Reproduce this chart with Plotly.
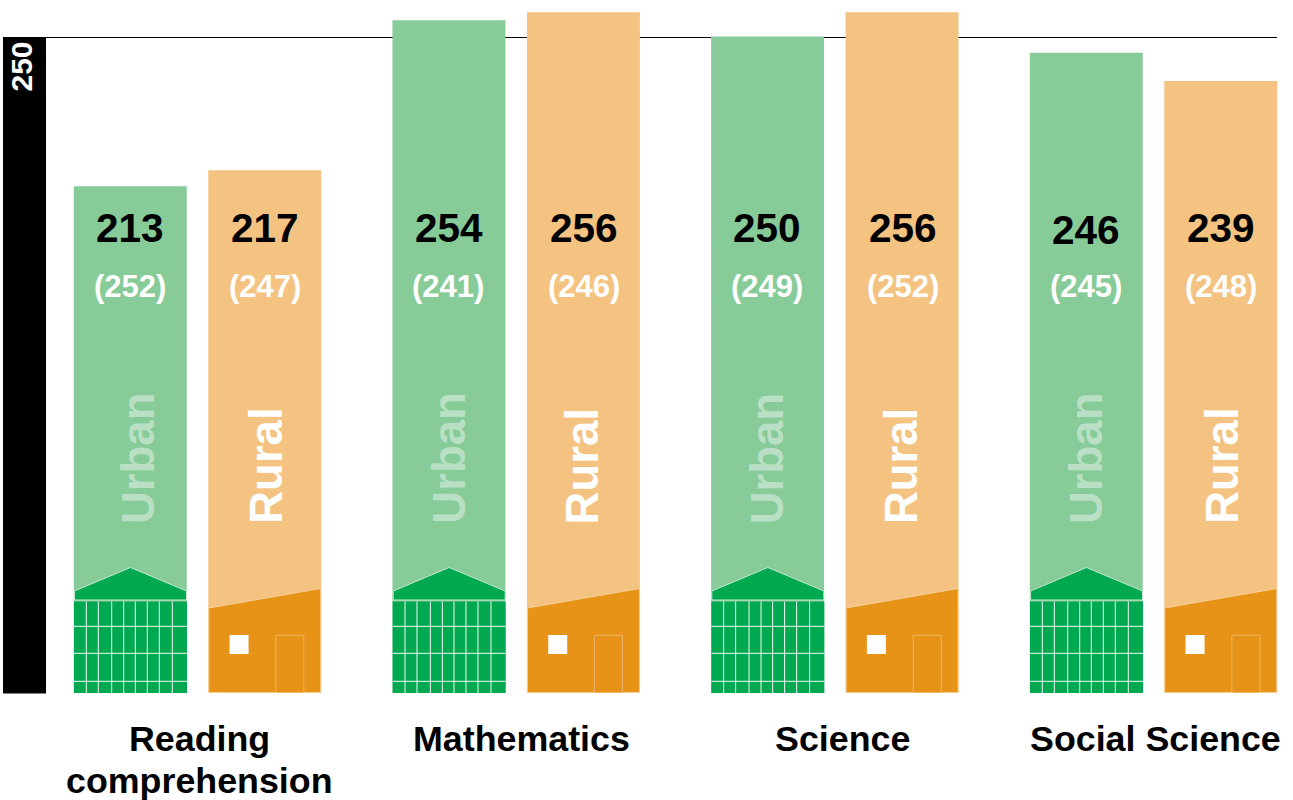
import plotly.graph_objects as go

categories = ["Reading<br>comprehension", "Mathematics", "Science", "Social Science"]
urban_values = [213, 254, 250, 246]
rural_values = [217, 256, 256, 239]
urban_refs = [252, 241, 249, 245]
rural_refs = [247, 246, 252, 248]
reference_value = 250
series_names = ["Urban", "Rural"]

W, H, PLOT_H = 1293, 800, 693
FONT = "Liberation Sans, Arial, sans-serif"
GREEN_L, GREEN_D = "#86CB98", "#00A84F"
ORANGE_L, ORANGE_D = "#F4C381", "#E79318"
PX_PER_UNIT = 4.05
Y_250 = 36.5
axis_min = reference_value - (PLOT_H - Y_250) / PX_PER_UNIT
axis_max = reference_value + Y_250 / PX_PER_UNIT
STEP = 318.67
C0 = 197.5


def fx(p):
    return p / W


def fy(p):
    return (PLOT_H - p) / PLOT_H


def rect(x0, y0, x1, y1, fill=None, line=None, lw=1, layer="above"):
    return dict(type="rect", xref="paper", yref="paper", x0=fx(x0), x1=fx(x1), y0=fy(y0), y1=fy(y1),
                fillcolor=fill if fill else "rgba(0,0,0,0)",
                line=dict(color=line, width=lw) if line else dict(width=0), layer=layer)


def poly(points, fill, line=None, lw=1):
    path = "M " + " L ".join(f"{fx(a):.5f},{fy(b):.5f}" for a, b in points) + " Z"
    return dict(type="path", xref="paper", yref="paper", path=path, fillcolor=fill,
                line=dict(color=line, width=lw) if line else dict(width=0), layer="above")


def seg(x0, y0, x1, y1, color="#F2FAF5", lw=1):
    return dict(type="line", xref="paper", yref="paper", x0=fx(x0), x1=fx(x1), y0=fy(y0), y1=fy(y1),
                line=dict(color=color, width=lw), layer="above")


shapes = [
    rect(3, 37, 46, 693.5, fill="#000000", layer="below"),
    dict(type="line", xref="paper", yref="paper", x0=fx(3), x1=fx(1277), y0=fy(37.5), y1=fy(37.5),
         line=dict(color="#000000", width=1), layer="below"),
]

for i in range(len(categories)):
    ul = C0 + STEP * i - 123.5
    rl = C0 + STEP * i + 10.75
    # urban building
    shapes.append(rect(ul, 601.5, ul + 113, 693, fill=GREEN_D))
    shapes.append(poly([(ul + 0.5, 591), (ul + 56.5, 567.5), (ul + 112.5, 591), (ul + 112.5, 600), (ul + 0.5, 600)],
                       GREEN_D, "#C6E8D0", 1))
    for dx in [12.3, 24.3, 37.7, 49.7, 61.3, 73.3, 85.3, 98.3]:
        shapes.append(seg(ul + dx, 601.5, ul + dx, 693))
    for py in [626.3, 653.3, 681.3]:
        shapes.append(seg(ul, py, ul + 113, py))
    # rural house
    shapes.append(poly([(rl + 0.5, 608), (rl + 112.5, 588.5), (rl + 112.5, 692.5), (rl + 0.5, 692.5)],
                       ORANGE_D, "#F6CF98", 1))
    shapes.append(rect(rl + 21.3, 635, rl + 40.3, 654, fill="#FFFFFF"))
    shapes.append(rect(rl + 67.6, 635.3, rl + 95.6, 692.5, line="#EFB465", lw=1))

annotations = [dict(text=str(reference_value), xref="paper", yref="paper", x=fx(20.5), y=fy(37), yshift=-3,
                    textangle=-90, xanchor="center", yanchor="top", showarrow=False,
                    font=dict(family=FONT, size=30, color="#FFFFFF", weight="bold"))]


def label(text, px, py, size, color, angle=0, yanchor="middle"):
    annotations.append(dict(text=f"<b>{text}</b>", xref="paper", yref="paper", x=fx(px), y=fy(py),
                            xanchor="center", yanchor=yanchor, showarrow=False, textangle=angle,
                            font=dict(family=FONT, size=size, color=color)))


value_y = [228, 228, 228, 230.5]
label_x = [199, 521, 842.5, 1155]
urban_shift = [8, 0, 0, 0]
rural_shift = [1, -1, -1, 1]
for i, cat in enumerate(categories):
    uc = C0 + STEP * i - 67
    rc = C0 + STEP * i + 67.25
    label(str(urban_values[i]), uc - 0.5, value_y[i], 40.5, "#000000")
    label(str(rural_values[i]), rc + 0.5, 228, 40.5, "#000000")
    label(f"({urban_refs[i]})", uc - 1, 286.5, 31, "#FFFFFF")
    label(f"({rural_refs[i]})", rc + 0.5, 286.5, 31, "#FFFFFF")
    label(series_names[0], uc + urban_shift[i], 526, 45.5, "#B9E0C4", angle=-90, yanchor="bottom")
    label(series_names[1], rc + rural_shift[i], 526, 45.5, "#FFFFFF", angle=-90, yanchor="bottom")
    for j, line in enumerate(cat.split("<br>")):
        label(line, label_x[i], 738.5 + 42 * j, 35.8, "#000000")

fig = go.Figure()
fig.add_bar(name=series_names[0], x=categories, y=urban_values, marker=dict(color=GREEN_L, line=dict(width=0)))
fig.add_bar(name=series_names[1], x=categories, y=rural_values, marker=dict(color=ORANGE_L, line=dict(width=0)))
fig.update_layout(
    width=W, height=H, margin=dict(l=0, r=0, t=0, b=H - PLOT_H, pad=0),
    barmode="group", bargap=0.156, bargroupgap=0.16, showlegend=False,
    paper_bgcolor="#FFFFFF", plot_bgcolor="#FFFFFF",
    xaxis=dict(range=[-C0 / STEP, (W - C0) / STEP], showticklabels=False, showgrid=False, zeroline=False,
               showline=False, ticks=""),
    yaxis=dict(range=[axis_min, axis_max], visible=False),
    shapes=shapes, annotations=annotations,
)
fig.write_html("out.html", config=dict(displayModeBar=False),
               post_script="document.body.style.margin='0';document.documentElement.style.overflow='hidden';")
